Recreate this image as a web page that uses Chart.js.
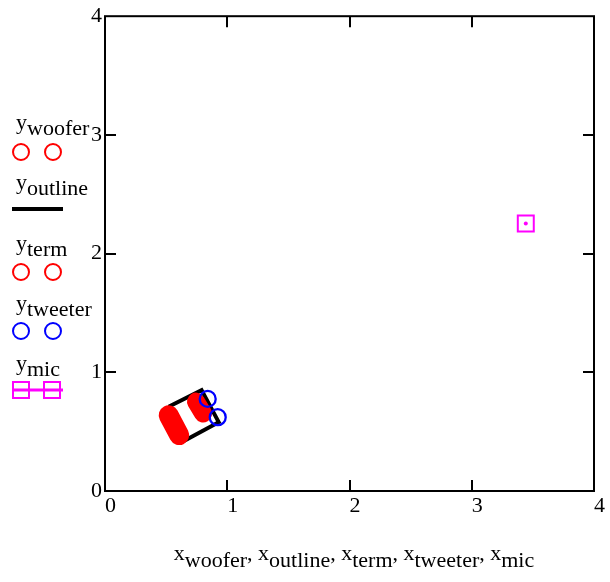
<!DOCTYPE html>
<html>
<head>
<meta charset="utf-8">
<script src="https://cdn.jsdelivr.net/npm/chart.js@4/dist/chart.umd.min.js"></script>
<style>
  html, body { margin: 0; padding: 0; background: #ffffff; }
  #wrap { width: 610px; height: 582px; position: relative; }
</style>
</head>
<body>
<div id="wrap"><canvas id="plot" width="610" height="582"></canvas></div>
<script>
// Axis ticks
const xTicks = [0, 1, 2, 3, 4];
const yTicks = [0, 1, 2, 3, 4];

// Series coordinates
const xWoofer  = [0.521, 0.607];
const yWoofer  = [0.638, 0.471];
const xOutline = [0.52, 0.79, 0.93, 0.66, 0.52];
const yOutline = [0.71, 0.85, 0.58, 0.43, 0.71];
const xTerm    = [0.744, 0.802];
const yTerm    = [0.753, 0.653];
const xTweeter = [0.840, 0.922];
const yTweeter = [0.776, 0.622];
const xMic     = [3.442];
const yMic     = [2.253];

// Legend / axis-title names (subscripts)
const seriesNames = ['woofer', 'outline', 'term', 'tweeter', 'mic'];

const RED = '#ff0000', BLUE = '#0000ff', MAGENTA = '#ff00ff', BLACK = '#000000';
const SERIF = '"Liberation Serif", "Times New Roman", serif';
const FONT_PX = 22;

const pts = (xs, ys) => xs.map((x, i) => ({ x: x, y: ys[i] }));

// Frame with inward tick marks on all four sides
const framePlugin = {
  id: 'frame',
  afterDraw(chart) {
    const { ctx, chartArea: a, scales } = chart;
    const tl = 11;
    ctx.save();
    ctx.strokeStyle = BLACK;
    ctx.lineWidth = 2;
    ctx.strokeRect(a.left, a.top, a.right - a.left, a.bottom - a.top);
    ctx.beginPath();
    xTicks.slice(1, -1).forEach(v => {
      const px = Math.round(scales.x.getPixelForValue(v));
      ctx.moveTo(px, a.bottom); ctx.lineTo(px, a.bottom - tl);
      ctx.moveTo(px, a.top);    ctx.lineTo(px, a.top + tl);
    });
    yTicks.slice(1, -1).forEach(v => {
      const py = Math.round(scales.y.getPixelForValue(v));
      ctx.moveTo(a.left, py);  ctx.lineTo(a.left + tl, py);
      ctx.moveTo(a.right, py); ctx.lineTo(a.right - tl, py);
    });
    ctx.stroke();
    ctx.restore();
  }
};

// Small centre dot inside the mic box marker
const micDotPlugin = {
  id: 'micDot',
  afterDatasetsDraw(chart) {
    const idx = chart.data.datasets.findIndex(d => d.label === 'mic');
    const meta = chart.getDatasetMeta(idx);
    const ctx = chart.ctx;
    ctx.save();
    ctx.fillStyle = MAGENTA;
    meta.data.forEach(el => {
      ctx.beginPath();
      ctx.arc(el.x, el.y, 2, 0, Math.PI * 2);
      ctx.fill();
    });
    ctx.restore();
  }
};

// Draws a main letter followed by a lowered subscript; returns the advance
function subLabel(ctx, main, sub, x, base, drop) {
  ctx.fillText(main, x, base);
  const w = ctx.measureText(main).width;
  ctx.fillText(sub, x + w, base + drop);
  return w + ctx.measureText(sub).width;
}

// Mathcad-style stacked legend on the left and the x-axis title
const textPlugin = {
  id: 'labels',
  afterDraw(chart) {
    const ctx = chart.ctx;
    ctx.save();
    ctx.font = FONT_PX + 'px ' + SERIF;
    ctx.fillStyle = BLACK;
    ctx.textBaseline = 'alphabetic';
    ctx.textAlign = 'left';

    const baselines = [129, 189, 250, 310, 370];
    const markY = [152, 209, 272, 331, 390];
    const styles = [
      { kind: 'circle', color: RED },
      { kind: 'line', color: BLACK },
      { kind: 'circle', color: RED },
      { kind: 'circle', color: BLUE },
      { kind: 'box', color: MAGENTA }
    ];
    seriesNames.forEach((name, i) => {
      subLabel(ctx, 'y', name, 16, baselines[i], 6);
      const st = styles[i];
      const my = markY[i];
      ctx.strokeStyle = st.color;
      if (st.kind === 'circle') {
        ctx.lineWidth = 2;
        [21, 53].forEach(cx => {
          ctx.beginPath(); ctx.arc(cx, my, 8, 0, Math.PI * 2); ctx.stroke();
        });
      } else if (st.kind === 'line') {
        ctx.lineWidth = 4;
        ctx.beginPath(); ctx.moveTo(12, my); ctx.lineTo(63, my); ctx.stroke();
      } else {
        ctx.lineWidth = 3;
        ctx.beginPath(); ctx.moveTo(12, my); ctx.lineTo(63, my); ctx.stroke();
        ctx.lineWidth = 2;
        [21, 52].forEach(cx => ctx.strokeRect(cx - 8, my - 8, 16, 16));
      }
    });

    // x-axis title: x_woofer, x_outline, ...
    const parts = seriesNames.map(n => ({ main: 'x', sub: n }));
    const sep = ', ';
    let total = 0;
    parts.forEach((p, i) => {
      total += ctx.measureText(p.main).width + ctx.measureText(p.sub).width;
      if (i < parts.length - 1) total += ctx.measureText(sep).width;
    });
    let x = 354 - total / 2;
    const base = 560;
    parts.forEach((p, i) => {
      x += subLabel(ctx, p.main, p.sub, x, base, 7);
      if (i < parts.length - 1) {
        ctx.fillText(sep, x, base);
        x += ctx.measureText(sep).width;
      }
    });
    ctx.restore();
  }
};

const tickFont = { family: SERIF, size: FONT_PX };

new Chart(document.getElementById('plot'), {
  type: 'scatter',
  data: {
    datasets: [
      {
        label: 'mic', data: pts(xMic, yMic), showLine: true,
        borderColor: MAGENTA, borderWidth: 2, backgroundColor: 'rgba(0,0,0,0)',
        pointStyle: 'rect', pointRadius: 11.3, pointBorderWidth: 2,
        pointBackgroundColor: 'rgba(0,0,0,0)', pointBorderColor: MAGENTA, order: 0
      },
      {
        label: 'tweeter', data: pts(xTweeter, yTweeter), showLine: false,
        pointStyle: 'circle', pointRadius: 8, pointBorderWidth: 2.3,
        pointBorderColor: BLUE, pointBackgroundColor: 'rgba(0,0,0,0)', order: 1
      },
      {
        label: 'term', data: pts(xTerm, yTerm), showLine: true,
        borderColor: RED, borderWidth: 18, borderCapStyle: 'round',
        pointRadius: 0, order: 2
      },
      {
        label: 'woofer', data: pts(xWoofer, yWoofer), showLine: true,
        borderColor: RED, borderWidth: 20, borderCapStyle: 'round',
        pointRadius: 0, order: 3
      },
      {
        label: 'outline', data: pts(xOutline, yOutline), showLine: true,
        borderColor: BLACK, borderWidth: 4, borderJoinStyle: 'miter',
        pointRadius: 0, order: 4
      }
    ]
  },
  options: {
    responsive: false,
    animation: false,
    devicePixelRatio: 1,
    layout: { padding: { top: 13, right: 16, left: 0, bottom: 0 } },
    plugins: { legend: { display: false }, tooltip: { enabled: false }, title: { display: false } },
    scales: {
      x: {
        type: 'linear', min: xTicks[0], max: xTicks[xTicks.length - 1],
        afterBuildTicks: s => { s.ticks = xTicks.map(v => ({ value: v })); },
        ticks: { font: tickFont, color: BLACK, align: 'start', padding: 2, maxRotation: 0 },
        grid: { display: false, drawTicks: false },
        border: { display: false },
        afterFit: s => { s.height = 91; }
      },
      y: {
        type: 'linear', min: yTicks[0], max: yTicks[yTicks.length - 1],
        afterBuildTicks: s => { s.ticks = yTicks.map(v => ({ value: v })); },
        ticks: { font: tickFont, color: BLACK, padding: 3 },
        grid: { display: false, drawTicks: false },
        border: { display: false },
        afterFit: s => { s.width = 105; }
      }
    }
  },
  plugins: [framePlugin, micDotPlugin, textPlugin]
});
</script>
</body>
</html>
